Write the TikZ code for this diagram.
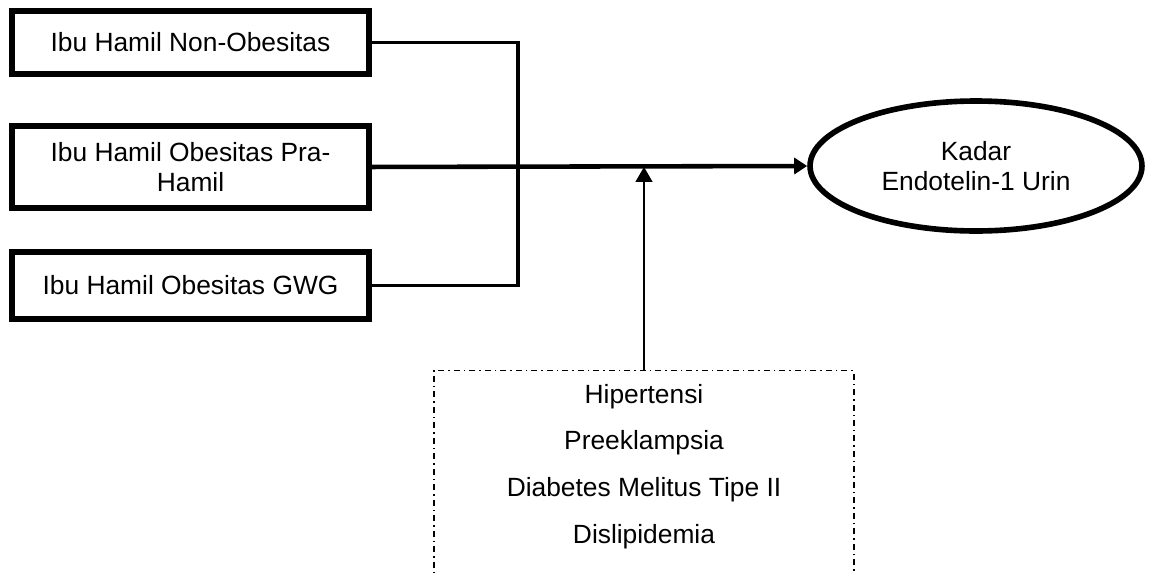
\documentclass[tikz,border=0pt]{standalone}
\usepackage{fontspec}
\setmainfont{Liberation Sans}
\usetikzlibrary{arrows.meta,positioning,shapes.geometric}

\begin{document}
\begin{tikzpicture}[
  x=0.02cm, y=0.02cm,
  font=\fontsize{15}{17}\selectfont,
  groupbox/.style={
    draw,
    line width=3pt,
    minimum width=7.14cm,
    outer sep=0pt,
    inner sep=0pt,
    align=center
  },
  outcome/.style={
    draw,
    ellipse,
    line width=3.2pt,
    minimum width=6.64cm,
    minimum height=2.6cm,
    inner sep=0pt,
    align=center
  },
  moderatorbox/.style={
    draw,
    line width=0.75pt,
    dash pattern=on 0.12cm off 0.08cm on 0.03cm off 0.08cm,
    minimum width=8.4cm,
    inner ysep=0.27cm,
    align=center,
    font=\fontsize{15}{26.6}\selectfont
  },
  link/.style={line width=2.2pt},
  arrow/.style={-{Triangle[length=0.26cm,width=0.32cm]},line width=2.6pt},
  modarrow/.style={-{Triangle[length=0.3cm,width=0.34cm]},line width=0.75pt}
]
  \useasboundingbox (0,0) rectangle (1153,-572);
  \clip (0,0) rectangle (1153,-572);
  \node[groupbox,minimum height=1.26cm] (nonobese) at (190.5,-42.5) {Ibu Hamil Non-Obesitas};
  \node[groupbox,minimum height=1.64cm,below=1.04cm of nonobese] (prahamil) {Ibu Hamil Obesitas Pra-\\Hamil};
  \node[groupbox,minimum height=1.34cm,below=0.88cm of prahamil] (gwg) {Ibu Hamil Obesitas GWG};
  \node[outcome] (urin) at (976,-166) {Kadar\\Endotelin-1 Urin};
  \node[moderatorbox,anchor=north] (moderator) at (644,-370) {Hipertensi\\Preeklampsia\\Diabetes Melitus Tipe II\\Dislipidemia\rule[-2cm]{0pt}{0pt}};
  \coordinate (join) at (518,-167);
  \draw[link] (nonobese.east) -| (join) |- (gwg.east);
  \draw[arrow] (prahamil.east) -- (urin.west);
  \draw[modarrow] (moderator.north) -- (moderator.north |- prahamil.east);
\end{tikzpicture}
\end{document}
